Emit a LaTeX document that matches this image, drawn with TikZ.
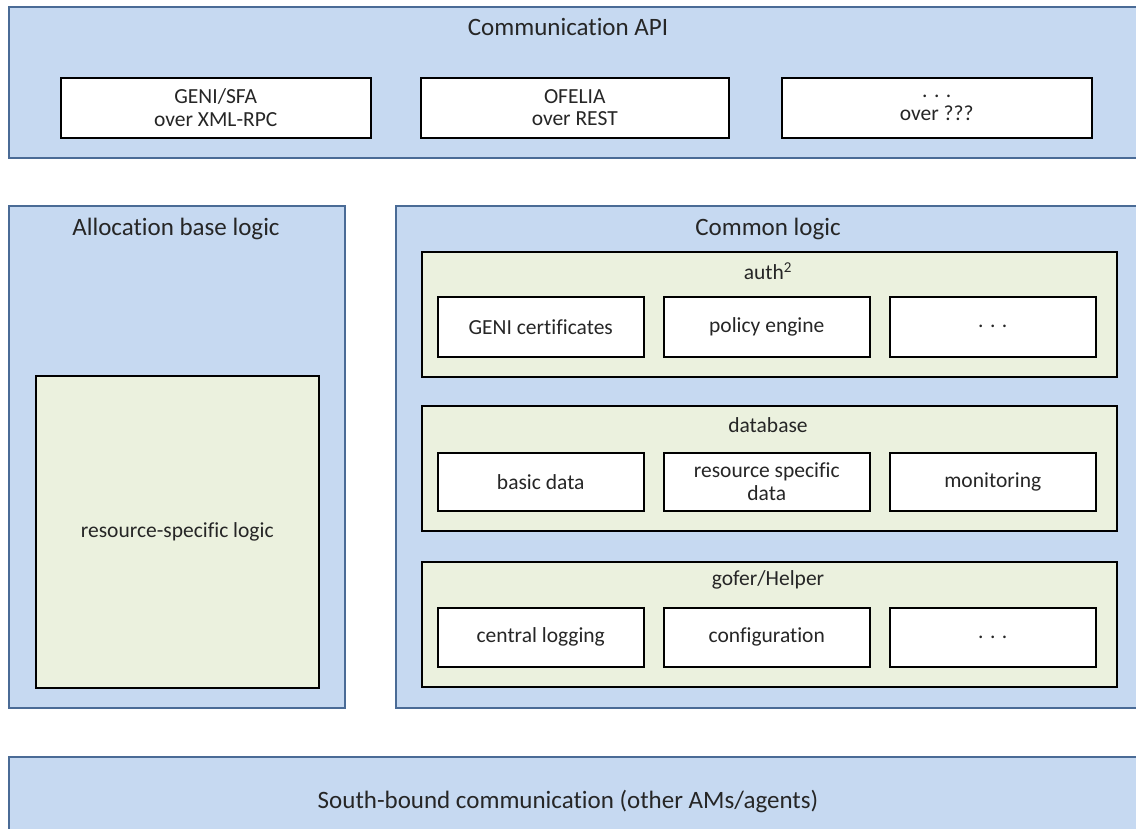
\documentclass[tikz,border=0pt]{standalone}
\usepackage{fontspec}
\setmainfont{Carlito}[Ligatures={NoCommon,NoDiscretionary,NoRare}]
\definecolor{bluefill}{HTML}{C6D9F1}
\definecolor{blueline}{HTML}{4A6B96}
\definecolor{greenfill}{HTML}{EBF1DE}
\begin{document}
\begin{tikzpicture}[x=1pt,y=-1pt,
  outer/.style={draw=blueline,fill=bluefill,line width=1.6pt,anchor=north west,inner sep=0pt},
  group/.style={draw=black,fill=greenfill,line width=1.5pt,anchor=north west,inner sep=0pt},
  item/.style={draw=black,fill=white,line width=1.5pt,anchor=north west,inner sep=0pt,align=center,
    font=\fontsize{21.5}{22.5}\selectfont,text=black!85},
  ttl/.style={font=\fontsize{25}{28}\selectfont,text=black!85},
  sub/.style={font=\fontsize{21.5}{24}\selectfont,text=black!85}]
\useasboundingbox (0,0) rectangle (1136,828);
% top
\node[outer,minimum width=1134pt,minimum height=151pt] (api) at (8,6) {};
\node[ttl] (apit) at (568,27) {Communication API};
\node[item,minimum width=310pt,minimum height=60pt] (geni) at (60,77) {GENI/SFA\\over XML-RPC};
\node[item,minimum width=308pt,minimum height=60pt] (ofelia) at (420,77) {OFELIA\\over REST};
\node[item,minimum width=310pt,minimum height=60pt] (other) at (781,77) {. . .\\over ???};
% allocation
\node[outer,minimum width=336pt,minimum height=502pt] (alloc) at (8,205) {};
\node[ttl] (alloct) at (176,229) {Allocation base logic};
\node[group,minimum width=283pt,minimum height=312pt,font=\fontsize{21.5}{24}\selectfont,text=black!85] (rsl) at (35,375) {resource-specific logic};
% common
\node[outer,minimum width=745pt,minimum height=502pt] (common) at (395,205) {};
\node[ttl] (commont) at (768,229) {Common logic};
\node[group,minimum width=695pt,minimum height=125pt] (auth) at (421,251) {};
\node[sub] (autht) at (768,271) {auth\textsuperscript{2}};
\node[item,minimum width=206pt,minimum height=60pt] (cert) at (437,296) {GENI certificates};
\node[item,minimum width=206pt,minimum height=60pt] (policy) at (663,296) {policy engine};
\node[item,minimum width=206pt,minimum height=60pt] (authx) at (889,296) {. . .};
\node[group,minimum width=695pt,minimum height=125pt] (db) at (421,405) {};
\node[sub] (dbt) at (768,425) {database};
\node[item,minimum width=206pt,minimum height=58pt] (basic) at (437,452) {basic data};
\node[item,minimum width=206pt,minimum height=58pt] (rsd) at (663,452) {resource specific\\data};
\node[item,minimum width=206pt,minimum height=58pt] (mon) at (889,452) {monitoring};
\node[group,minimum width=695pt,minimum height=125pt] (gofer) at (421,561) {};
\node[sub] (gofert) at (768,580) {gofer/Helper};
\node[item,minimum width=206pt,minimum height=59pt] (log) at (437,607) {central logging};
\node[item,minimum width=206pt,minimum height=59pt] (conf) at (663,607) {configuration};
\node[item,minimum width=206pt,minimum height=59pt] (gx) at (889,607) {. . .};
% south
\node[outer,minimum width=1134pt,minimum height=90pt] (south) at (8,756) {};
\node[ttl] (southt) at (568,801) {South-bound communication (other AMs/agents)};
\end{tikzpicture}
\end{document}
